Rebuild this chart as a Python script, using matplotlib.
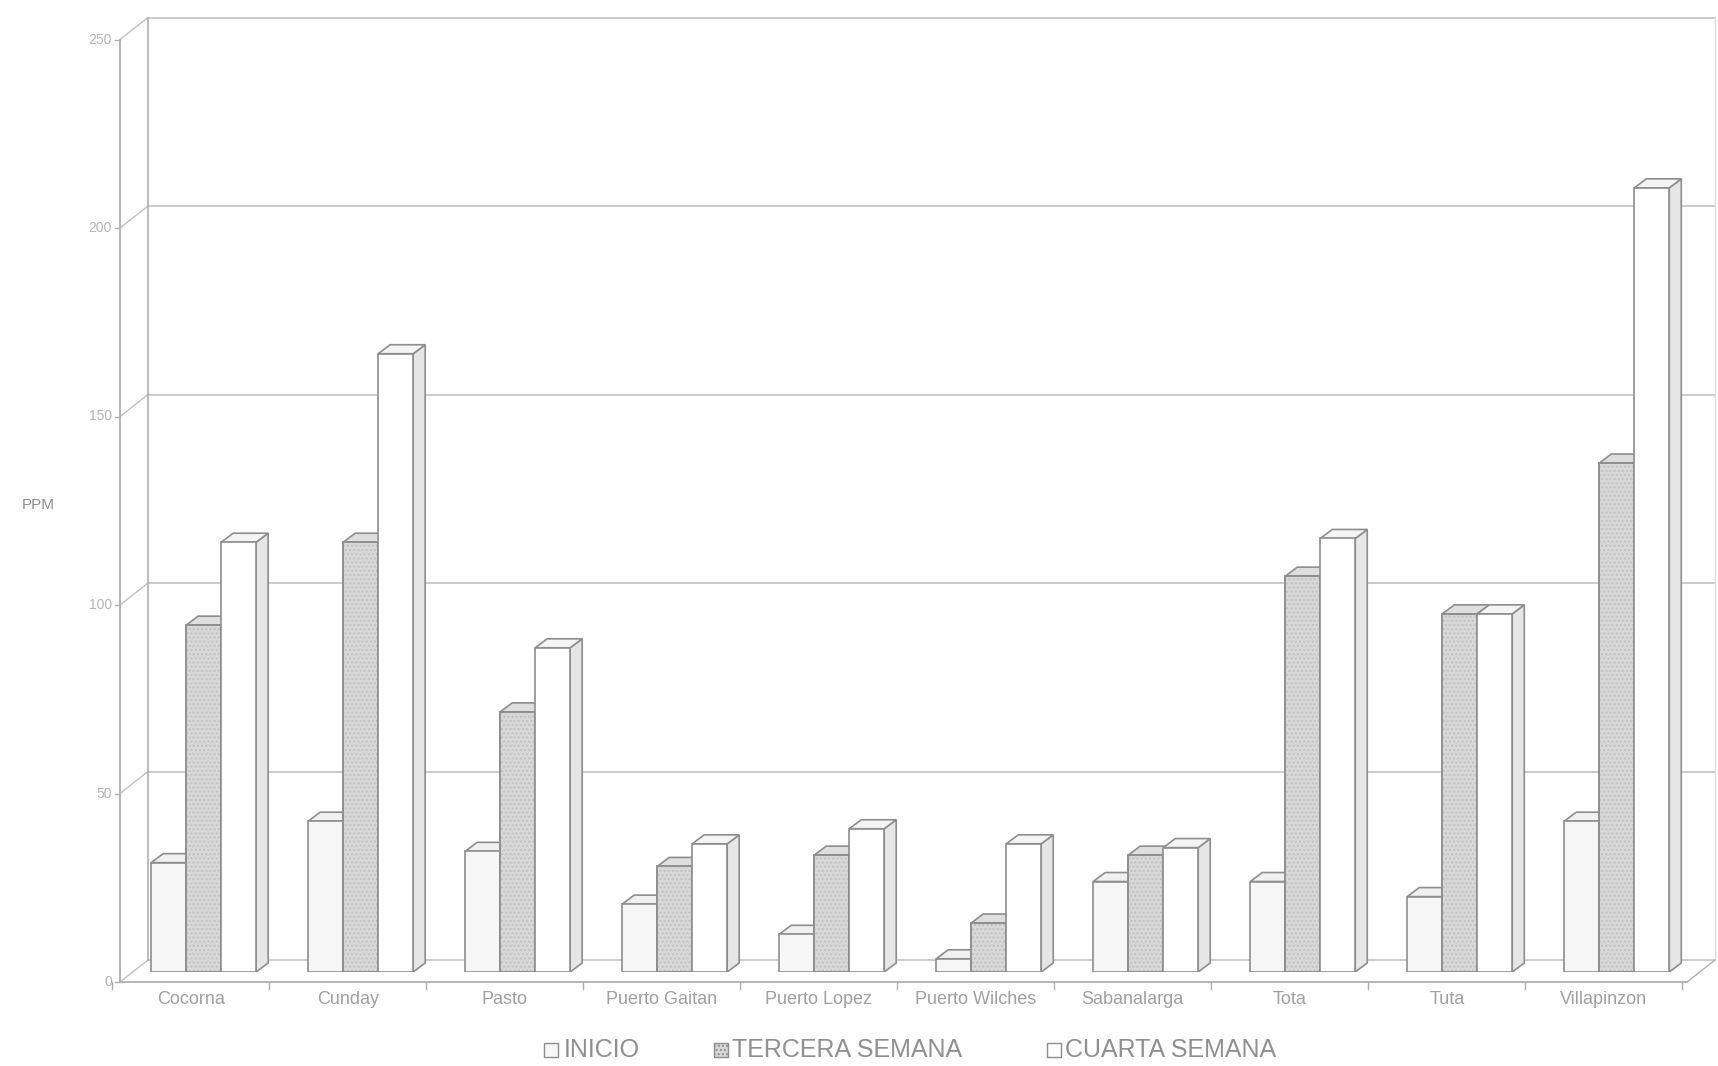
import matplotlib
matplotlib.use('Agg')
import matplotlib.pyplot as plt
from matplotlib.patches import Polygon, Rectangle

municipios = ['Cocorna', 'Cunday', 'Pasto', 'Puerto Gaitan', 'Puerto Lopez',
              'Puerto Wilches', 'Sabanalarga', 'Tota', 'Tuta', 'Villapinzon']
inicio = [29, 40, 32, 18, 10, 3.5, 24, 24, 20, 40]
tercera = [92, 114, 69, 28, 31, 13, 31, 105, 95, 135]
cuarta = [114, 164, 86, 34, 38, 34, 33, 115, 95, 208]
series = ['INICIO', 'TERCERA SEMANA', 'CUARTA SEMANA']
y_ticks = [0, 50, 100, 150, 200, 250]

plt.rcParams['font.family'] = ['Liberation Sans', 'DejaVu Sans']

W, H = 1718, 1066
fig = plt.figure(figsize=(W / 100, H / 100), dpi=100)
fig.patch.set_facecolor('white')

# the axes is the plane where the front faces of the bars sit
x0, x1 = -0.45, 9.53
ax = fig.add_axes([133 / W, 1 - 972 / H, (1700 - 133) / W, (972 - 29.5) / H])
ax.set_xlim(x0, x1)
ax.set_ylim(0, 250)
ax.axis('off')

ux = (1700 - 133) / (x1 - x0)   # px per category unit
uy = (972 - 29.5) / 250         # px per PPM


def px(dx, dy):
    return dx / ux, dy / uy


fx, fy = px(-13, -10)   # front plane (value axis, floor edge)
bx, by = px(15, 12)     # back wall
dx, dy = px(12, 9)      # bar depth

line_c = '#b0b0b0'
grid_c = '#c2c2c2'
edge_c = '#8e8e8e'
text_c = '#a0a0a0'

# back wall and gridlines
for t in y_ticks:
    ax.plot([x0 + bx, x1 + bx], [t + by, t + by], color=grid_c, lw=1.2, zorder=1, clip_on=False)
    ax.plot([x0 + fx, x0 + bx], [t + fy, t + by], color=grid_c, lw=1.0, zorder=1, clip_on=False)
ax.plot([x0 + bx, x0 + bx], [by, 250 + by], color=line_c, lw=1.2, zorder=1, clip_on=False)
ax.plot([x1 + bx, x1 + bx], [by, 250 + by], color='#dcdcdc', lw=1.0, zorder=1, clip_on=False)

# floor
ax.plot([x0 + fx, x1 + fx], [fy, fy], color=line_c, lw=1.3, zorder=1, clip_on=False)
ax.plot([x1 + fx, x1 + bx], [fy, by], color=line_c, lw=1.0, zorder=1, clip_on=False)
tick_dx, tick_dy = px(0, 7)
for b in range(-1, len(municipios)):
    xb = b + 0.5 + fx
    ax.plot([xb, xb], [fy, fy - tick_dy], color=line_c, lw=1.0, zorder=1, clip_on=False)

# value axis
ax.plot([x0 + fx, x0 + fx], [fy, 250 + fy], color=line_c, lw=1.3, zorder=2, clip_on=False)
tlen, _ = px(5, 0)
lab_off, _ = px(8, 0)
for t in y_ticks:
    ax.plot([x0 + fx - tlen, x0 + fx], [t + fy, t + fy], color=line_c, lw=1.0, clip_on=False)
    ax.text(x0 + fx - lab_off, t + fy, str(t), ha='right', va='center',
            fontsize=10, color='#b4b4b4')

# category labels
_, lab_dy = px(0, 17)
for i, name in enumerate(municipios):
    ax.text(i + fx, fy - lab_dy, name, ha='center', va='center', fontsize=13, color=text_c)

fig.text(38 / W, 1 - 505 / H, 'PPM', ha='center', va='center', fontsize=11, color='#8e8e8e')

# bars
w = 35 / ux
front_c = ['#f6f6f6', '#d8d8d8', '#ffffff']
side_c = ['#e4e4e4', '#c8c8c8', '#e6e6e6']
top_c = ['#f0f0f0', '#dedede', '#f4f4f4']
values = [inicio, tercera, cuarta]

z = 3
for i in range(len(municipios)):
    for k, vals in enumerate(values):
        h = vals[i]
        xl = i + (k - 1.5) * w
        side = Polygon([(xl + w, 0), (xl + w + dx, dy), (xl + w + dx, h + dy), (xl + w, h)],
                       closed=True, facecolor=side_c[k], edgecolor=edge_c, lw=1.2, zorder=z)
        top = Polygon([(xl, h), (xl + w, h), (xl + w + dx, h + dy), (xl + dx, h + dy)],
                      closed=True, facecolor=top_c[k], edgecolor=edge_c, lw=1.2, zorder=z)
        ax.add_patch(side)
        ax.add_patch(top)
        ax.bar(xl, h, width=w, align='edge', color=front_c[k], edgecolor=edge_c,
               lw=1.2, zorder=z + 1)
        if k == 1:
            ax.bar(xl, h, width=w, align='edge', fill=False, hatch='....',
                   edgecolor='#c0c0c0', lw=0, zorder=z + 1)
            ax.bar(xl, h, width=w, align='edge', fill=False, edgecolor=edge_c,
                   lw=1.2, zorder=z + 1)
        z += 2

# legend
leg_x = [551, 721, 1054]
leg_t = [564, 732, 1065]
leg_y = 1050
for k, name in enumerate(series):
    sq = Rectangle(((leg_x[k] - 7) / W, 1 - (leg_y + 7) / H), 14 / W, 14 / H,
                   transform=fig.transFigure, facecolor=front_c[k],
                   edgecolor='#8e8e8e', lw=1.0, hatch='....' if k == 1 else None)
    fig.patches.append(sq)
    fig.text(leg_t[k] / W, 1 - leg_y / H, name, ha='left', va='center',
             fontsize=18, color='#909090')

fig.savefig('out.png', dpi=100, facecolor='white')
